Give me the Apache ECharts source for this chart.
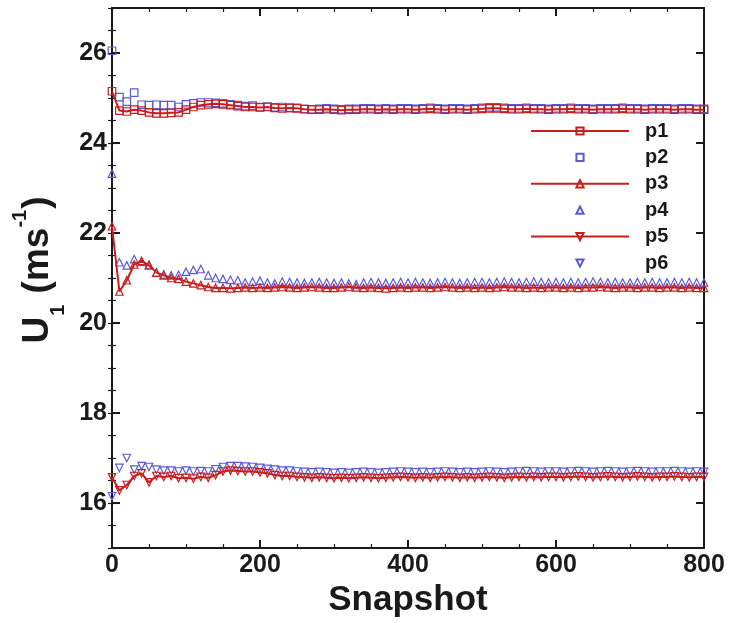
<!DOCTYPE html>
<html>
<head>
<meta charset="utf-8">
<script src="https://cdn.jsdelivr.net/npm/echarts@6/dist/echarts.min.js"></script>
<style>
  html, body { margin: 0; padding: 0; background: #ffffff; }
  #chart { width: 731px; height: 623px; }
</style>
</head>
<body>
<div id="chart"></div>
<script>
// Snapshot index of each sample
const snapshots = [
  0, 10, 20, 30, 40, 50, 60, 70, 80, 90,
  100, 110, 120, 130, 140, 150, 160, 170, 180, 190,
  200, 210, 220, 230, 240, 250, 260, 270, 280, 290,
  300, 310, 320, 330, 340, 350, 360, 370, 380, 390,
  400, 410, 420, 430, 440, 450, 460, 470, 480, 490,
  500, 510, 520, 530, 540, 550, 560, 570, 580, 590,
  600, 610, 620, 630, 640, 650, 660, 670, 680, 690,
  700, 710, 720, 730, 740, 750, 760, 770, 780, 790,
  800
];

// Streamwise velocity U1 (m/s) at probe points p1..p6
const p1 = [
  25.15, 24.72, 24.70, 24.74, 24.72, 24.68, 24.66, 24.66, 24.67, 24.68,
  24.74, 24.80, 24.84, 24.86, 24.87, 24.86, 24.84, 24.82, 24.80, 24.80,
  24.79, 24.80, 24.78, 24.77, 24.78, 24.77, 24.75, 24.74, 24.74, 24.75,
  24.74, 24.73, 24.74, 24.74, 24.75, 24.75, 24.74, 24.75, 24.74, 24.75,
  24.75, 24.74, 24.75, 24.76, 24.75, 24.74, 24.75, 24.75, 24.74, 24.75,
  24.76, 24.77, 24.77, 24.76, 24.75, 24.75, 24.76, 24.75, 24.75, 24.74,
  24.75, 24.75, 24.76, 24.75, 24.75, 24.74, 24.75, 24.75, 24.75, 24.76,
  24.75, 24.75, 24.74, 24.75, 24.75, 24.75, 24.74, 24.75, 24.75, 24.74,
  24.74
];
const p2 = [
  26.05, 25.02, 24.92, 25.12, 24.85, 24.84, 24.85, 24.84, 24.84, 24.80,
  24.86, 24.88, 24.90, 24.90, 24.89, 24.88, 24.86, 24.84, 24.82, 24.83,
  24.80, 24.81, 24.79, 24.80, 24.78, 24.78, 24.76, 24.75, 24.76, 24.77,
  24.76, 24.75, 24.76, 24.76, 24.77, 24.77, 24.76, 24.77, 24.76, 24.77,
  24.77, 24.76, 24.77, 24.78, 24.77, 24.76, 24.77, 24.77, 24.76, 24.77,
  24.78, 24.79, 24.79, 24.78, 24.77, 24.77, 24.78, 24.77, 24.77, 24.76,
  24.77, 24.77, 24.78, 24.77, 24.77, 24.76, 24.77, 24.77, 24.77, 24.78,
  24.77, 24.77, 24.76, 24.77, 24.77, 24.77, 24.76, 24.77, 24.77, 24.76,
  24.76
];
const p3 = [
  22.15, 20.70, 20.95, 21.30, 21.38, 21.28, 21.12, 21.06, 21.00, 20.98,
  20.92, 20.88, 20.84, 20.80, 20.78, 20.78, 20.77, 20.78, 20.79, 20.78,
  20.79, 20.78, 20.79, 20.80, 20.79, 20.78, 20.79, 20.80, 20.79, 20.78,
  20.78, 20.79, 20.80, 20.79, 20.78, 20.79, 20.78, 20.77, 20.78, 20.79,
  20.78, 20.79, 20.79, 20.78, 20.79, 20.80, 20.79, 20.78, 20.79, 20.78,
  20.79, 20.78, 20.79, 20.80, 20.79, 20.79, 20.78, 20.79, 20.78, 20.79,
  20.79, 20.78, 20.79, 20.78, 20.79, 20.79, 20.80, 20.79, 20.78, 20.79,
  20.79, 20.78, 20.79, 20.79, 20.78, 20.79, 20.79, 20.78, 20.79, 20.78,
  20.78
];
const p4 = [
  23.32, 21.35, 21.28, 21.42, 21.36, 21.30, 21.12, 21.08, 21.06, 21.07,
  21.14, 21.18, 21.20, 21.06, 21.00, 20.98, 20.96, 20.95, 20.90, 20.92,
  20.94, 20.90, 20.88, 20.92, 20.91, 20.90, 20.89, 20.90, 20.91, 20.90,
  20.89, 20.90, 20.88, 20.86, 20.90, 20.91, 20.90, 20.89, 20.90, 20.91,
  20.90, 20.91, 20.90, 20.89, 20.90, 20.91, 20.90, 20.89, 20.90, 20.91,
  20.91, 20.90, 20.91, 20.92, 20.91, 20.90, 20.91, 20.92, 20.91, 20.90,
  20.91, 20.90, 20.91, 20.90, 20.91, 20.92, 20.91, 20.90, 20.91, 20.90,
  20.90, 20.91, 20.90, 20.91, 20.90, 20.90, 20.91, 20.90, 20.91, 20.90,
  20.90
];
const p5 = [
  16.57, 16.28, 16.40, 16.60, 16.66, 16.46, 16.60, 16.58, 16.60, 16.55,
  16.56, 16.54, 16.58, 16.56, 16.62, 16.70, 16.72, 16.71, 16.70, 16.70,
  16.68, 16.66, 16.62, 16.60, 16.60, 16.58, 16.57, 16.56, 16.57, 16.56,
  16.55, 16.56, 16.55, 16.56, 16.57, 16.56, 16.55, 16.56, 16.57, 16.58,
  16.57, 16.56, 16.57, 16.56, 16.57, 16.58, 16.57, 16.56, 16.57, 16.56,
  16.57, 16.58, 16.57, 16.56, 16.57, 16.58, 16.57, 16.58, 16.57, 16.58,
  16.58, 16.57, 16.58, 16.59, 16.58, 16.57, 16.58, 16.59, 16.58, 16.57,
  16.58, 16.59, 16.58, 16.57, 16.58, 16.58, 16.59, 16.58, 16.57, 16.58,
  16.58
];
const p6 = [
  16.15, 16.78, 17.00, 16.74, 16.82, 16.80, 16.74, 16.72, 16.72, 16.70,
  16.72, 16.70, 16.71, 16.70, 16.75, 16.80, 16.82, 16.82, 16.81, 16.80,
  16.78, 16.76, 16.74, 16.72, 16.72, 16.70, 16.69, 16.68, 16.69, 16.68,
  16.67, 16.68, 16.67, 16.68, 16.69, 16.68, 16.67, 16.68, 16.69, 16.70,
  16.69, 16.68, 16.69, 16.68, 16.69, 16.70, 16.69, 16.68, 16.69, 16.68,
  16.69, 16.70, 16.69, 16.68, 16.69, 16.70, 16.71, 16.70, 16.69, 16.70,
  16.70, 16.69, 16.70, 16.71, 16.70, 16.69, 16.70, 16.71, 16.70, 16.69,
  16.70, 16.71, 16.70, 16.69, 16.70, 16.70, 16.71, 16.70, 16.69, 16.70,
  16.69
];

// Axis ticks
const xTicks = [0, 200, 400, 600, 800];
const yTicks = [16, 18, 20, 22, 24, 26];

const RED = '#c81e1e';
const BLUE = '#5a5ad8';
const INK = '#1a1a1a';
const FONT = '"Liberation Sans", Arial, Helvetica, sans-serif';

function pairs(values) {
  return snapshots.map((s, i) => [s, values[i]]);
}

function redSeries(name, values, symbol, rotate) {
  return {
    name, type: 'line', data: pairs(values),
    symbol, symbolSize: 7.5, symbolRotate: rotate || 0,
    lineStyle: { color: RED, width: 2 },
    itemStyle: { color: 'rgba(255,255,255,0)', borderColor: RED, borderWidth: 1.2 },
    z: 3
  };
}
function blueSeries(name, values, symbol, rotate) {
  return {
    name, type: 'line', data: pairs(values),
    symbol, symbolSize: 7.5, symbolRotate: rotate || 0,
    lineStyle: { color: BLUE, width: 0, opacity: 0 },
    itemStyle: { color: 'rgba(255,255,255,0)', borderColor: BLUE, borderWidth: 1.2 },
    z: 2
  };
}

const frameLine = { show: true, onZero: false, lineStyle: { color: INK, width: 2 } };
const tickFont = { fontFamily: FONT, fontWeight: 'bold', fontSize: 25, color: INK };

function xAxisDef(position, withLabels) {
  return {
    type: 'value', position, min: xTicks[0], max: xTicks[xTicks.length - 1],
    interval: xTicks[1] - xTicks[0],
    axisLine: frameLine,
    axisTick: { show: true, inside: true, length: 8, lineStyle: { color: INK, width: 2 } },
    minorTick: { show: true, splitNumber: 4, length: 4, lineStyle: { color: INK, width: 1.2 } },
    splitLine: { show: false },
    minorSplitLine: { show: false },
    axisLabel: Object.assign({ show: withLabels, margin: 5 }, tickFont),
    name: withLabels ? 'Snapshot' : '',
    nameLocation: 'middle',
    nameGap: 32,
    nameTextStyle: { fontFamily: FONT, fontWeight: 'bold', fontSize: 35, color: INK }
  };
}

function yMajorDef(position, withLabels) {
  return {
    type: 'value', position, min: 15, max: 27,
    axisLine: frameLine,
    axisTick: { show: true, inside: true, length: 8, customValues: yTicks, lineStyle: { color: INK, width: 2 } },
    axisLabel: Object.assign({ show: withLabels, margin: 5, customValues: yTicks }, tickFont),
    splitLine: { show: false },
    name: withLabels ? '{a|U}{b|1}{a| (ms}{c|-1}{a|)}' : '',
    nameLocation: 'middle',
    nameGap: 51,
    nameTextStyle: {
      color: INK,
      padding: [0, 0, 0, 16],
      rich: {
        a: { fontFamily: FONT, fontWeight: 'bold', fontSize: 37, color: INK, lineHeight: 42 },
        b: { fontFamily: FONT, fontWeight: 'bold', fontSize: 20, color: INK, verticalAlign: 'bottom', lineHeight: 42, padding: [0, 1, -9, 1] },
        c: { fontFamily: FONT, fontWeight: 'bold', fontSize: 20, color: INK, verticalAlign: 'top', lineHeight: 42, padding: [-7, 1, 0, 0] }
      }
    }
  };
}
function yMinorDef(position) {
  return {
    type: 'value', position, min: 15, max: 27, interval: 0.5,
    axisLine: { show: false },
    axisTick: { show: true, inside: true, length: 4, lineStyle: { color: INK, width: 1.2 } },
    axisLabel: { show: false },
    splitLine: { show: false }
  };
}

const chart = echarts.init(document.getElementById('chart'), null, { renderer: 'canvas' });
chart.setOption({
  animation: false,
  backgroundColor: '#ffffff',
  grid: { left: 112, right: 27, top: 8, bottom: 75, containLabel: false },
  xAxis: [xAxisDef('bottom', true), xAxisDef('top', false)],
  yAxis: [yMajorDef('left', true), yMinorDef('left'), yMajorDef('right', false), yMinorDef('right')],
  legend: {
    orient: 'vertical',
    left: 525, top: 116,
    itemWidth: 98, itemHeight: 9, itemGap: 6.4,
    textStyle: { fontFamily: FONT, fontWeight: 'bold', fontSize: 20, lineHeight: 19, color: INK, padding: [0, 0, 0, 11] },
    data: ['p1', 'p2', 'p3', 'p4', 'p5', 'p6']
  },
  series: [
    redSeries('p1', p1, 'rect'),
    blueSeries('p2', p2, 'rect'),
    redSeries('p3', p3, 'triangle'),
    blueSeries('p4', p4, 'triangle'),
    redSeries('p5', p5, 'triangle', 180),
    blueSeries('p6', p6, 'triangle', 180)
  ]
});
</script>
</body>
</html>
